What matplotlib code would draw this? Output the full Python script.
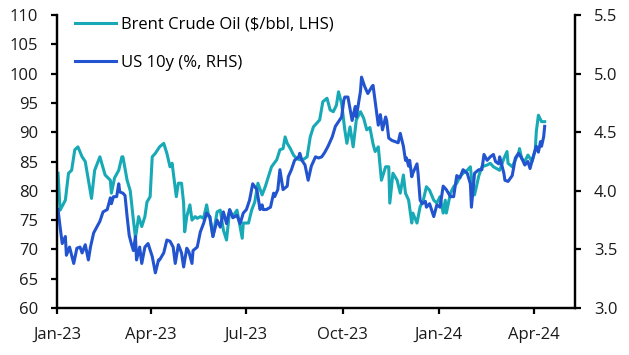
#!/usr/bin/env python
# -*- coding: utf-8 -*-

# Brent crude oil vs US 10y yield, Jan-23 to Apr-24

import pandas as pd
import matplotlib as mpl
import matplotlib.pyplot as plt
import matplotlib.dates as mdates
from matplotlib.ticker import MultipleLocator, FormatStrFormatter

# Data (days since 2023-01-01)
brent_day = [1, 3, 8, 11, 14, 17, 20, 24, 27, 30, 33, 36, 41, 46, 51, 52, 55, 59, 62, 63,
             67, 70, 73, 75, 78, 81, 84, 86, 89, 91, 94, 98, 102, 105, 108, 110, 111, 114,
             116, 119, 121, 122, 124, 127, 129, 132, 134, 137, 140, 143, 145, 146, 149, 153,
             156, 159, 162, 165, 168, 172, 177, 178, 183, 186, 189, 192, 196, 199, 202, 205,
             210, 213, 216, 218, 220, 223, 226, 229, 232, 235, 239, 242, 245, 248, 251, 254,
             258, 261, 264, 267, 269, 272, 275, 277, 280, 282, 283, 286, 290, 293, 296, 299,
             302, 304, 307, 310, 314, 317, 318, 321, 325, 328, 331, 333, 336, 339, 340, 344,
             347, 350, 353, 356, 360, 363, 366, 369, 371, 372, 376, 379, 382, 385, 388, 392,
             395, 396, 399, 403, 406, 411, 414, 417, 420, 423, 427, 430, 431, 435, 438, 441,
             442, 444, 447, 450, 454, 457, 458, 460, 463, 466]
brent = [83.0, 76.7, 78.4, 83.0, 83.5, 87.0, 87.5, 85.8, 85.0, 81.8, 78.7, 83.5, 85.8, 82.7,
         81.8, 79.6, 82.2, 83.5, 85.8, 85.8, 81.8, 80.0, 75.0, 72.0, 75.6, 73.9, 75.6, 78.1,
         79.0, 85.8, 86.4, 87.5, 88.1, 86.4, 84.1, 84.7, 83.3, 79.0, 81.3, 81.3, 77.9, 73.0,
         75.6, 77.6, 75.0, 75.6, 75.3, 75.6, 75.3, 77.6, 75.6, 75.6, 72.2, 76.4, 76.7, 73.3,
         71.6, 76.7, 75.6, 76.7, 71.9, 74.5, 74.5, 76.7, 78.1, 81.3, 79.3, 80.7, 82.4, 84.1,
         85.3, 87.0, 87.2, 89.2, 88.1, 87.2, 86.1, 85.5, 85.3, 85.3, 85.8, 89.2, 90.9, 91.5,
         92.1, 95.2, 95.8, 93.8, 93.5, 94.6, 96.9, 94.9, 90.4, 88.1, 90.9, 88.7, 87.5, 92.1,
         93.5, 92.4, 90.4, 90.8, 88.0, 86.7, 87.5, 81.8, 84.1, 84.1, 77.9, 83.0, 81.8, 79.6,
         82.7, 79.6, 78.4, 74.5, 76.2, 74.5, 77.3, 78.4, 80.7, 80.1, 78.4, 77.9, 79.0, 76.2,
         78.4, 76.2, 79.6, 80.7, 81.3, 82.4, 83.0, 83.5, 84.1, 82.4, 79.3, 82.5, 84.1, 84.4,
         84.7, 84.1, 83.8, 83.5, 85.5, 86.7, 84.7, 84.1, 85.3, 86.4, 87.2, 85.5, 85.0, 86.1,
         85.0, 87.0, 90.1, 92.9, 91.8, 91.8]

ust_day = [1, 3, 5, 8, 9, 12, 16, 19, 22, 24, 27, 30, 32, 35, 38, 41, 44, 48, 51, 52, 54,
           57, 59, 60, 63, 65, 67, 69, 71, 73, 75, 76, 79, 81, 84, 87, 91, 94, 97, 98, 102,
           105, 108, 111, 113, 116, 119, 121, 124, 126, 129, 130, 134, 137, 140, 143, 146,
           149, 153, 156, 159, 162, 165, 168, 172, 175, 178, 181, 184, 187, 191, 194, 196,
           197, 200, 204, 207, 208, 211, 213, 216, 220, 221, 224, 227, 231, 232, 234, 237,
           240, 243, 247, 250, 253, 256, 259, 263, 266, 269, 272, 274, 275, 278, 282, 285,
           286, 290, 291, 294, 297, 301, 302, 306, 307, 309, 311, 314, 315, 317, 320, 323,
           326, 328, 331, 333, 334, 336, 337, 339, 340, 344, 345, 347, 349, 352, 353, 356,
           360, 363, 366, 369, 372, 376, 379, 382, 385, 388, 392, 395, 396, 399, 403, 406,
           408, 411, 414, 417, 419, 422, 423, 427, 428, 431, 435, 438, 441, 444, 447, 450,
           452, 455, 458, 460, 462, 463, 465, 466]
ust = [3.84, 3.69, 3.55, 3.61, 3.45, 3.52, 3.38, 3.51, 3.52, 3.47, 3.54, 3.41, 3.52, 3.64,
       3.69, 3.74, 3.82, 3.84, 3.94, 3.89, 3.95, 3.95, 4.06, 3.99, 3.98, 3.96, 3.78, 3.62,
       3.55, 3.49, 3.61, 3.41, 3.52, 3.38, 3.52, 3.55, 3.44, 3.30, 3.41, 3.41, 3.47, 3.58,
       3.57, 3.52, 3.38, 3.54, 3.47, 3.35, 3.51, 3.48, 3.38, 3.49, 3.52, 3.65, 3.72, 3.81,
       3.78, 3.61, 3.75, 3.69, 3.82, 3.72, 3.84, 3.77, 3.79, 3.72, 3.81, 3.84, 3.92, 4.06,
       4.01, 3.84, 3.88, 3.84, 3.84, 3.86, 3.98, 3.95, 4.01, 4.18, 4.01, 4.04, 4.12, 4.18,
       4.26, 4.29, 4.32, 4.26, 4.22, 4.09, 4.21, 4.29, 4.28, 4.29, 4.33, 4.38, 4.46, 4.55,
       4.59, 4.63, 4.77, 4.80, 4.80, 4.60, 4.72, 4.63, 4.85, 4.97, 4.89, 4.83, 4.89, 4.90,
       4.63, 4.56, 4.65, 4.52, 4.63, 4.60, 4.45, 4.43, 4.42, 4.41, 4.49, 4.38, 4.26, 4.28,
       4.21, 4.26, 4.12, 4.15, 4.23, 4.15, 3.92, 3.89, 3.91, 3.86, 3.89, 3.78, 3.88, 3.86,
       4.04, 4.01, 3.95, 3.95, 4.13, 4.11, 4.18, 4.15, 4.06, 3.86, 4.15, 4.18, 4.18, 4.31,
       4.26, 4.29, 4.31, 4.25, 4.23, 4.29, 4.15, 4.09, 4.08, 4.13, 4.28, 4.32, 4.28, 4.22,
       4.25, 4.19, 4.29, 4.38, 4.33, 4.42, 4.38, 4.46, 4.55]

start = pd.Timestamp('2023-01-01')
tick_dates = ['2023-01-01', '2023-04-01', '2023-07-01', '2023-10-01', '2024-01-01', '2024-04-01']

TEAL = '#17A9B5'
BLUE = '#2254CF'

mpl.rcParams['font.family'] = ['Open Sans', 'DejaVu Sans']
mpl.rcParams['font.size'] = 12

fig = plt.figure(figsize=(6.29, 3.55), dpi=100)
ax = fig.add_axes((0.0906, 0.1324, 0.8236, 0.8253))
ax2 = ax.twinx()

brent_x = start + pd.to_timedelta(brent_day, unit='D')
ust_x = start + pd.to_timedelta(ust_day, unit='D')

l1, = ax.plot(brent_x, brent, color=TEAL, linewidth=2.2, label='Brent Crude Oil ($/bbl, LHS)')
l2, = ax2.plot(ust_x, ust, color=BLUE, linewidth=2.2, label='US 10y (%, RHS)')

ax.set_ylim(60, 110)
ax.yaxis.set_major_locator(MultipleLocator(5))
ax2.set_ylim(3.0, 5.5)
ax2.yaxis.set_major_locator(MultipleLocator(0.5))
ax2.yaxis.set_major_formatter(FormatStrFormatter('%.1f'))

ax.set_xlim(start, start + pd.Timedelta(days=495))
ax.set_xticks(pd.to_datetime(tick_dates))
ax.xaxis.set_major_formatter(mdates.DateFormatter('%b-%y'))

for a in (ax, ax2):
    a.spines['top'].set_visible(False)
    for s in ('left', 'right', 'bottom'):
        a.spines[s].set_linewidth(1.6)
    a.tick_params(axis='both', which='major', length=4.5, width=1.6, labelsize=12,
                  colors='black', labelcolor='#1a1a1a')
ax.tick_params(axis='x', pad=9)
ax.tick_params(axis='y', pad=9)
ax2.tick_params(axis='y', pad=9)

leg = ax.legend(handles=[l1, l2], loc='upper left', bbox_to_anchor=(0.005, 1.045),
                frameon=False, handlelength=2.5, handletextpad=0.3, labelspacing=1.32,
                fontsize=12)

plt.savefig('out.png', dpi=100)
